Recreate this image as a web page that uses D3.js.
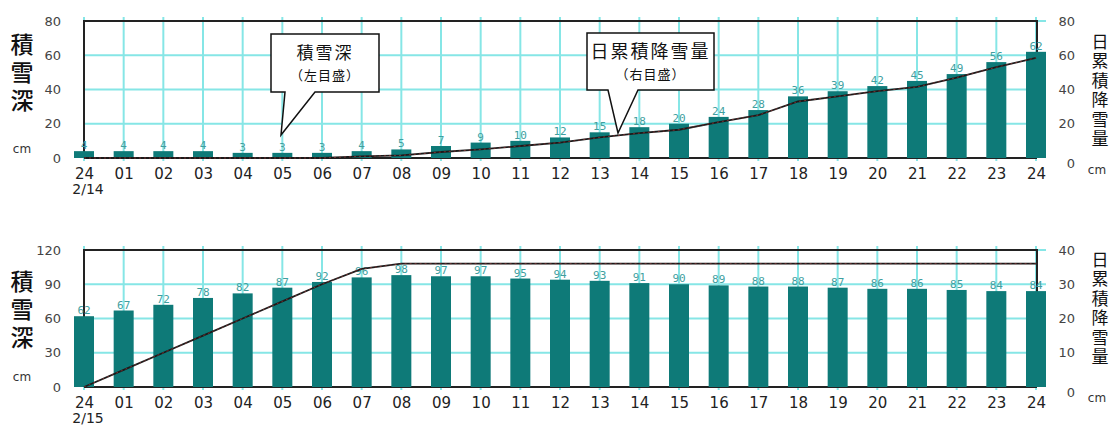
<!DOCTYPE html>
<html><head><meta charset="utf-8">
<script src="https://cdn.jsdelivr.net/npm/d3@7"></script>
<style>body{margin:0;background:#fff}svg{display:block}</style>
</head><body>
<svg id="c" width="1111" height="427"></svg>
<script>
const hours = ["24","01","02","03","04","05","06","07","08","09","10","11","12","13","14","15","16","17","18","19","20","21","22","23","24"];
const dates = ["2/14","2/15"];
const depth14 = [4,4,4,4,3,3,3,4,5,7,9,10,12,15,18,20,24,28,36,39,42,45,49,56,62];
const cum14 = [0,0,0,0,0,0,0,1,1.5,3.5,5,7,9,12,14.5,16.5,21,25,33,36,39,41.5,47,53,58.5];
const depth15 = [62,67,72,78,82,87,92,96,98,97,97,95,94,93,91,90,89,88,88,87,86,86,85,84,84];
const cum15 = [0,5,10,15,20,25,30,34.5,36,36,36,36,36,36,36,36,36,36,36,36,36,36,36,36,36];
const leftTicks14 = [0,20,40,60,80];
const rightTicks14 = [0,20,40,60,80];
const leftTicks15 = [0,30,60,90,120];
const rightTicks15 = [0,10,20,30,40];
const leftTitle = "積雪深";
const rightTitle = "日累積降雪量";
const unit = "cm";
const callouts = [{t1:"積雪深", t2:"（左目盛）"},{t1:"日累積降雪量", t2:"（右目盛）"}];

const svg = d3.select("#c");
const x = d3.scalePoint().domain(d3.range(hours.length)).range([84, 1036]);
const BAR = "#0e7a78", GRID = "#86e6e6", LBL = "#3f9f9f";
const tickFont = "'DejaVu Sans', sans-serif";
const cjk = "'Noto Sans CJK JP', sans-serif";

function panel(top, bottom, depth, cum, lt, rt, date, unitLy, unitRy, lTitleTop, rTitleTop) {
  const g = svg.append("g");
  const yL = d3.scaleLinear().domain([0, d3.max(lt)]).range([bottom, top]);
  const yR = d3.scaleLinear().domain([0, d3.max(rt)]).range([bottom, top]);
  // grid
  g.selectAll(".hg").data(lt.slice(1)).join("line")
    .attr("x1", 84).attr("x2", 1046).attr("y1", d => yL(d)).attr("y2", d => yL(d))
    .attr("stroke", GRID).attr("stroke-width", 2);
  g.selectAll(".vg").data(d3.range(hours.length)).join("line")
    .attr("x1", d => x(d)).attr("x2", d => x(d)).attr("y1", top - 4).attr("y2", bottom + 3)
    .attr("stroke", GRID).attr("stroke-width", 2);
  // frame
  g.append("path").attr("d", `M84,${bottom}V${top}H1037V${bottom}M84,${bottom}H1037`)
    .attr("fill", "none").attr("stroke", "#222").attr("stroke-width", 2);
  // bars
  g.selectAll(".bar").data(depth).join("rect")
    .attr("x", (d, i) => x(i) - 10).attr("width", 20)
    .attr("y", d => yL(d)).attr("height", d => bottom - yL(d))
    .attr("fill", BAR);
  g.selectAll(".bl").data(depth).join("text")
    .attr("x", (d, i) => x(i)).attr("y", d => yL(d) - 2)
    .attr("text-anchor", "middle").attr("font-family", "'DejaVu Sans Mono', monospace")
    .attr("font-size", 11).attr("fill", LBL).text(d => d);
  // cumulative line
  const ln = d3.line().x((d, i) => x(i)).y(d => yR(d));
  g.append("path").datum(cum).attr("d", ln).attr("fill", "none")
    .attr("stroke", "#1a1a1a").attr("stroke-width", 1.8);
  g.append("path").datum(cum).attr("d", ln).attr("fill", "none")
    .attr("stroke", "#b04040").attr("stroke-width", 0.6).attr("stroke-dasharray", "2,3");
  // left ticks
  const la = d3.axisLeft(yL).tickValues(lt).tickSize(0).tickPadding(0);
  const lg = g.append("g").attr("transform", "translate(61,0)").call(la);
  lg.select(".domain").remove();
  lg.selectAll("text").attr("font-family", tickFont).attr("font-size", 13).attr("fill", "#444");
  // right ticks
  const ra = d3.axisLeft(yR).tickValues(rt).tickSize(0).tickPadding(0);
  const rg = g.append("g").attr("transform", "translate(1075,0)").call(ra);
  rg.select(".domain").remove();
  rg.selectAll("text").attr("font-family", tickFont).attr("font-size", 13).attr("fill", "#444")
    .attr("dy", d => d === 0 ? "0.7em" : "0.32em");
  // x labels
  const xa = d3.axisBottom(x).tickFormat(i => hours[i]).tickSize(0).tickPadding(10);
  const xg = g.append("g").attr("transform", `translate(0,${bottom})`).call(xa);
  xg.select(".domain").remove();
  xg.selectAll("text").attr("font-family", tickFont).attr("font-size", 15).attr("fill", "#222");
  g.append("text").attr("x", 88).attr("y", bottom + 36).attr("text-anchor", "middle")
    .attr("font-family", tickFont).attr("font-size", 14).attr("fill", "#222").text(date);
  // titles (vertical writing)
  g.append("text").attr("x", 22).attr("y", lTitleTop)
    .style("writing-mode", "vertical-rl").attr("letter-spacing", 5)
    .attr("font-family", cjk).attr("font-size", 23).attr("font-weight", 500)
    .attr("fill", "#111").text(leftTitle);
  g.append("text").attr("x", 22).attr("y", unitLy).attr("dy", "0.35em").attr("text-anchor", "middle")
    .attr("font-family", tickFont).attr("font-size", 12).attr("fill", "#333").text(unit);
  g.append("text").attr("x", 1100).attr("y", rTitleTop)
    .style("writing-mode", "vertical-rl").attr("letter-spacing", 2.5)
    .attr("font-family", cjk).attr("font-size", 17)
    .attr("fill", "#111").text(rightTitle);
  g.append("text").attr("x", 1097).attr("y", unitRy).attr("dy", "0.35em").attr("text-anchor", "middle")
    .attr("font-family", tickFont).attr("font-size", 12).attr("fill", "#333").text(unit);
}

panel(21, 158, depth14, cum14, leftTicks14, rightTicks14, dates[0], 149, 170, 33, 33);
panel(250, 387, depth15, cum15, leftTicks15, rightTicks15, dates[1], 377, 398, 270, 251);

// callouts
function callout(box, tail, c, s1, s2) {
  const [x0, y0, x1, y1] = box;
  const [bx0, bx1, tx, ty] = tail;
  svg.append("path")
    .attr("d", `M${x0},${y0}H${x1}V${y1}H${bx1}L${tx},${ty}L${bx0},${y1}H${x0}Z`)
    .attr("fill", "#fff").attr("stroke", "#111").attr("stroke-width", 1.5);
  const cx = (x0 + x1) / 2;
  svg.append("text").attr("x", cx).attr("y", y0 + 19).attr("dy", "0.35em").attr("text-anchor", "middle")
    .attr("font-family", cjk).attr("font-size", s1)
    .attr("letter-spacing", 2).attr("fill", "#111").text(c.t1);
  svg.append("text").attr("x", cx).attr("y", y0 + 41).attr("dy", "0.35em").attr("text-anchor", "middle")
    .attr("font-family", cjk).attr("font-size", s2)
    .attr("letter-spacing", 1).attr("fill", "#111").text(c.t2);
}
callout([271, 34, 379, 92], [285, 315, 281, 135], callouts[0], 17, 13);
callout([587, 33, 714, 90], [608, 638, 618, 133], callouts[1], 18, 13);
</script>
</body></html>
